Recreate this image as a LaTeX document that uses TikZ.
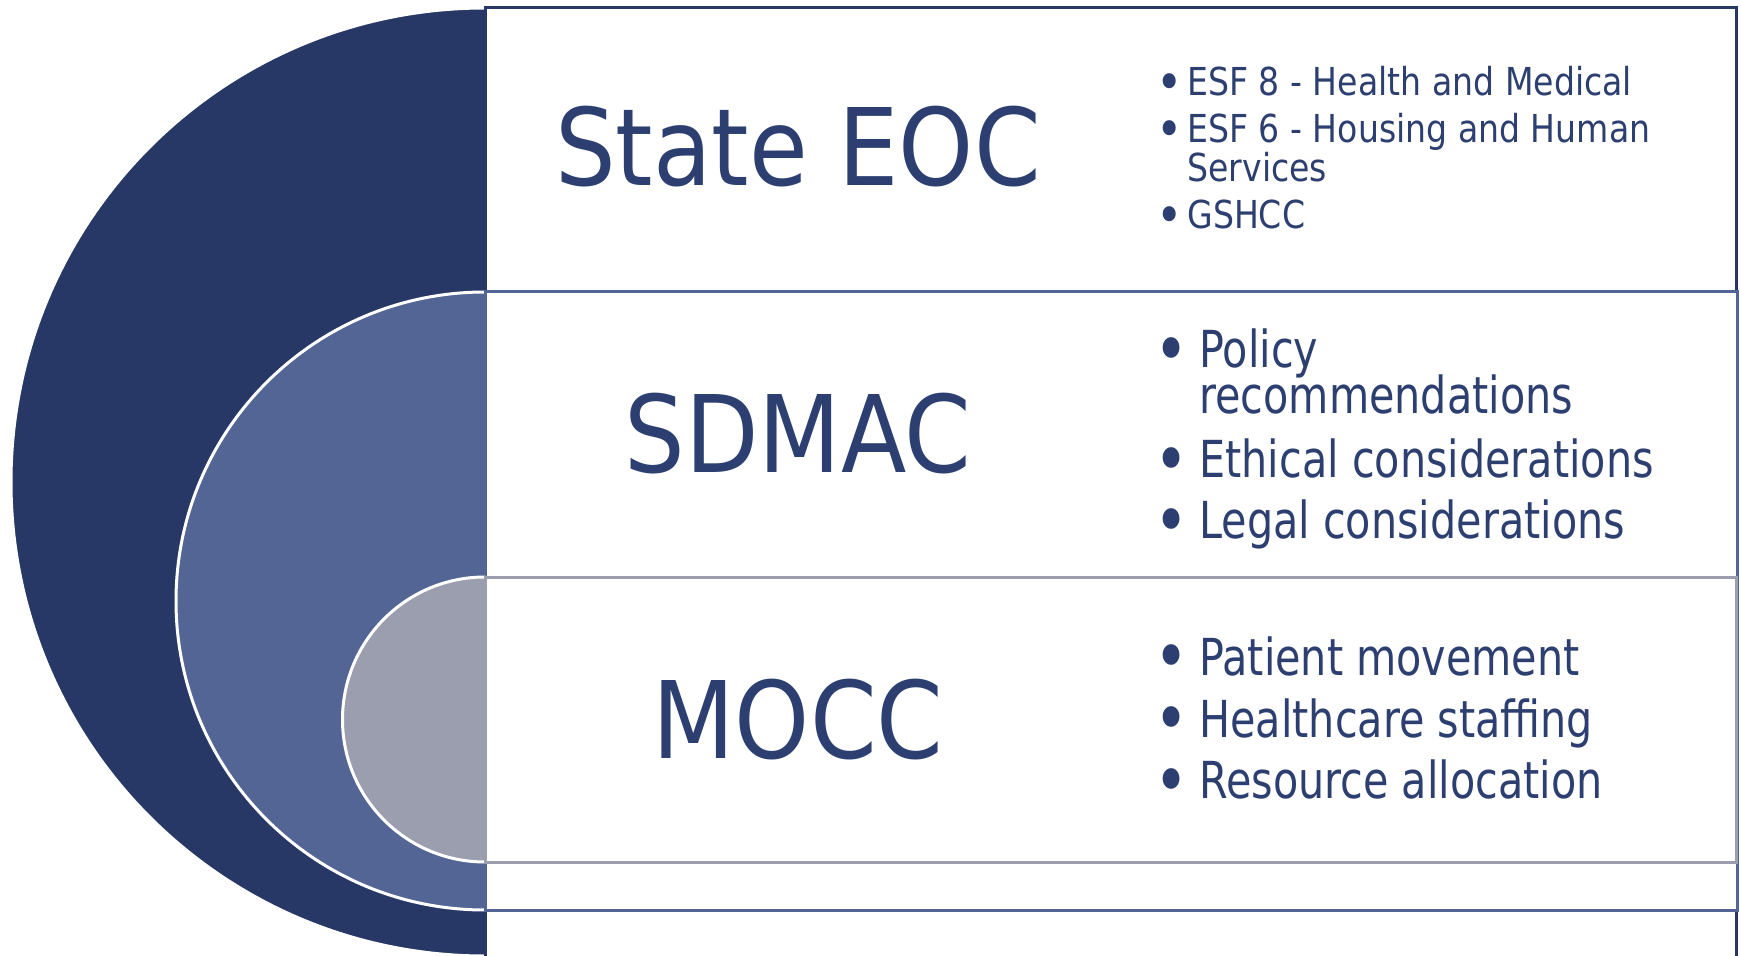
\documentclass[tikz,border=0pt]{standalone}
\usepackage{fontspec}
\newfontfamily\titlefont[FakeStretch=0.893]{DejaVu Sans}
\newfontfamily\itemfont[FakeStretch=0.81]{DejaVu Sans}
\newfontfamily\smallitemfont[FakeStretch=0.86]{DejaVu Sans}
\definecolor{navy}{HTML}{273866}
\definecolor{midblue}{HTML}{536594}
\definecolor{greyblue}{HTML}{9B9EAF}
\definecolor{txt}{HTML}{2C3F70}
\newcommand\bigdot{\makebox[20pt][l]{\hspace{-2.4pt}\smash{\raisebox{-3.4pt}{\scalebox{1.4}{•}}}}}
\newcommand\smalldot{\makebox[13.75pt][l]{\hspace{-1.7pt}\smash{\raisebox{-2.3pt}{\scalebox{1.35}{•}}}}}
\begin{document}
\begin{tikzpicture}[x=0.5pt,y=0.5pt,
  title/.style={font=\titlefont\fontsize{53.5pt}{60pt}\selectfont, text=txt, inner sep=0pt, anchor=base},
  bigitem/.style={font=\itemfont\fontsize{25.5pt}{30pt}\selectfont, text=txt, inner sep=0pt, anchor=base west},
  smallitem/.style={font=\smallitemfont\fontsize{19.25pt}{23pt}\selectfont, text=txt, inner sep=0pt, anchor=base west},
  lvlbox/.style={fill=white, line width=1.5pt},
  halfdisc/.style={draw=white, line width=1.5pt}]
\useasboundingbox (0,0) rectangle (1741,955);
\clip (0,0) rectangle (1741,955);
% level 1
\begin{scope}
  \clip (0,-10) rectangle (485,960);
  \filldraw[halfdisc, fill=navy] (485,473) circle[radius=474];
\end{scope}
\draw[lvlbox, draw=navy] (485,-6) rectangle (1736,947);
% level 2
\begin{scope}
  \clip (0,-10) rectangle (485,960);
  \filldraw[halfdisc, fill=midblue] (485,354) circle[radius=309];
\end{scope}
\draw[lvlbox, draw=midblue] (485,45) rectangle (1737,663);
% level 3
\begin{scope}
  \clip (0,-10) rectangle (485,960);
  \filldraw[halfdisc, fill=greyblue] (485,235.5) circle[radius=142.5];
\end{scope}
\draw[lvlbox, draw=greyblue] (485,93) rectangle (1736,378);
% titles
\node[title] (t1) at (798,769) {State EOC};
\node[title] (t2) at (798,483) {SDMAC};
\node[title] (t3) at (798,197) {MOCC};
% level 1 items
\node[smallitem] (a1) at (1159.5,859) {\smalldot ESF 8 - Health and Medical};
\node[smallitem] (a2) at (1159.5,812) {\smalldot ESF 6 - Housing and Human};
\node[smallitem] (a2b) at (1187,773.5) {Services};
\node[smallitem] (a3) at (1159.5,726) {\smalldot GSHCC};
% level 2 items
\node[bigitem] (b1) at (1159,587.5) {\bigdot Policy};
\node[bigitem] (b1b) at (1199,541) {recommendations};
\node[bigitem] (b2) at (1159,477.5) {\bigdot Ethical considerations};
\node[bigitem] (b3) at (1159,416.5) {\bigdot Legal considerations};
% level 3 items
\node[bigitem] (c1) at (1159,280) {\bigdot Patient movement};
\node[bigitem] (c2) at (1159,218) {\bigdot Healthcare staffing};
\node[bigitem] (c3) at (1159,156.5) {\bigdot Resource allocation};
\end{tikzpicture}
\end{document}
